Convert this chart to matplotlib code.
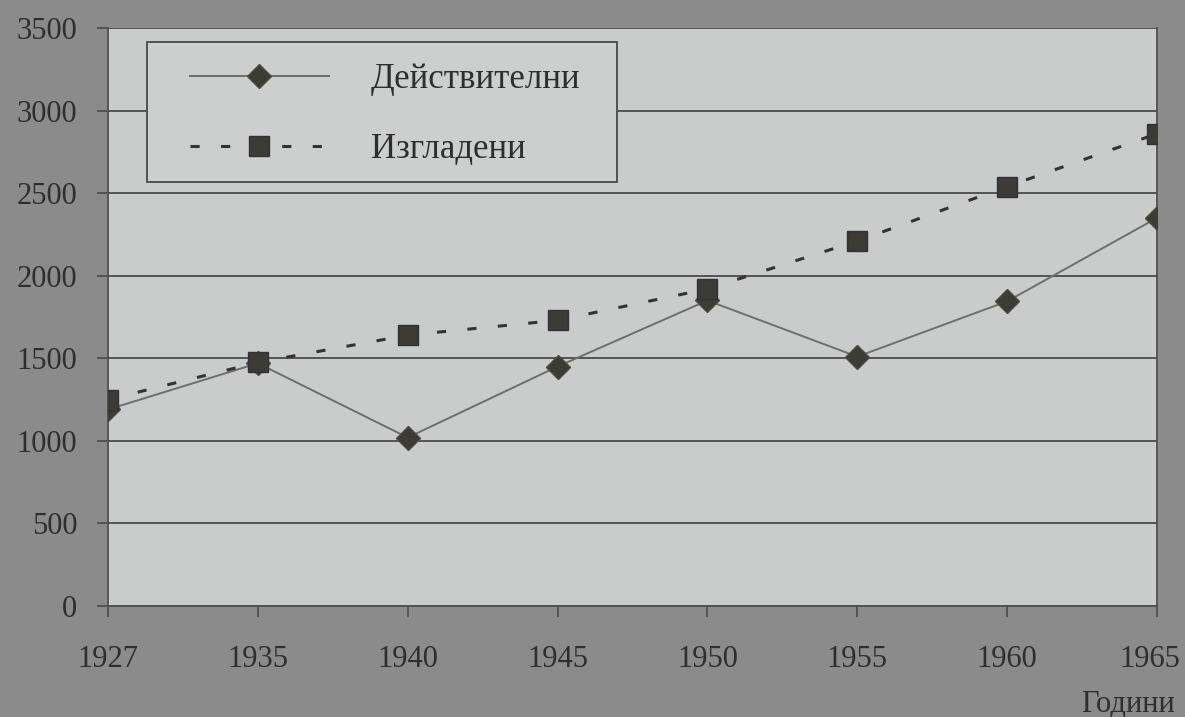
import numpy as np
import matplotlib.pyplot as plt
import matplotlib.transforms as mtransforms
from matplotlib.patches import Rectangle

years = ['1927', '1935', '1940', '1945', '1950', '1955', '1960', '1965']
actual = [1190, 1470, 1020, 1450, 1850, 1510, 1845, 2350]
smoothed = [1250, 1475, 1640, 1730, 1920, 2210, 2540, 2860]
yticks = [0, 500, 1000, 1500, 2000, 2500, 3000, 3500]

plt.rcParams['font.family'] = ['Liberation Serif', 'DejaVu Serif']
txt = '#2e2e2e'
mk = '#3c3b34'

fig = plt.figure(figsize=(11.85, 7.17), dpi=100)
fig.patch.set_facecolor('#8b8b8b')
ax = fig.add_axes([108/1185, 1-606/717, 1049/1185, 578/717])
ax.set_facecolor('#cacccc')

x = np.arange(len(years))
ax.plot(x, actual, color='#6e6e6a', lw=1.4, marker='D', ms=12,
        mfc=mk, mec='#4a4a44', label='Действителни', zorder=3)
ax.plot(x, smoothed, color='#34342e', lw=2.2, ls=(0, (3, 7)), marker='s', ms=15,
        mfc=mk, mec='#303040', label='Изгладени', zorder=4)

ax.set_xlim(0, len(years) - 1)
ax.set_ylim(0, 3500)
ax.set_xticks(x)
ax.set_xticklabels(years)
ax.set_yticks(yticks)
ax.yaxis.grid(True, color='#4a4a4a', lw=1.3)
ax.set_axisbelow(True)

ax.spines['top'].set_visible(False)
for s in ['left', 'right', 'bottom']:
    ax.spines[s].set_color('#505050')
    ax.spines[s].set_linewidth(1.3)

ax.tick_params(axis='both', colors='#505050', labelcolor=txt, labelsize=22,
               length=8, width=1.3, direction='out')
ax.tick_params(axis='x', pad=20)
ax.tick_params(axis='y', pad=14)

# last year label sits a little left so it stays on the page
lab = ax.get_xticklabels()[-1]
lab.set_transform(lab.get_transform() + mtransforms.ScaledTranslation(-7/100, 0, fig.dpi_scale_trans))

# legend box drawn by hand, wider than the entries
box = Rectangle((0.0372, 0.7336), 0.448, 0.2422, transform=ax.transAxes,
                facecolor='#cdcfcf', edgecolor='#4a4a4a', lw=1.3, zorder=5)
ax.add_patch(box)
leg = ax.legend(loc='upper left', bbox_to_anchor=(0.078, 0.939), fontsize=25,
                frameon=False, handlelength=4, handletextpad=1.22,
                borderpad=0, labelspacing=1.05, borderaxespad=0)
leg.set_zorder(6)
for t in leg.get_texts():
    t.set_color(txt)

fig.text(0.952, 0.018, 'Години', fontsize=22, color=txt, ha='center', va='center')

fig.savefig('out.png', dpi=100, facecolor=fig.get_facecolor())
